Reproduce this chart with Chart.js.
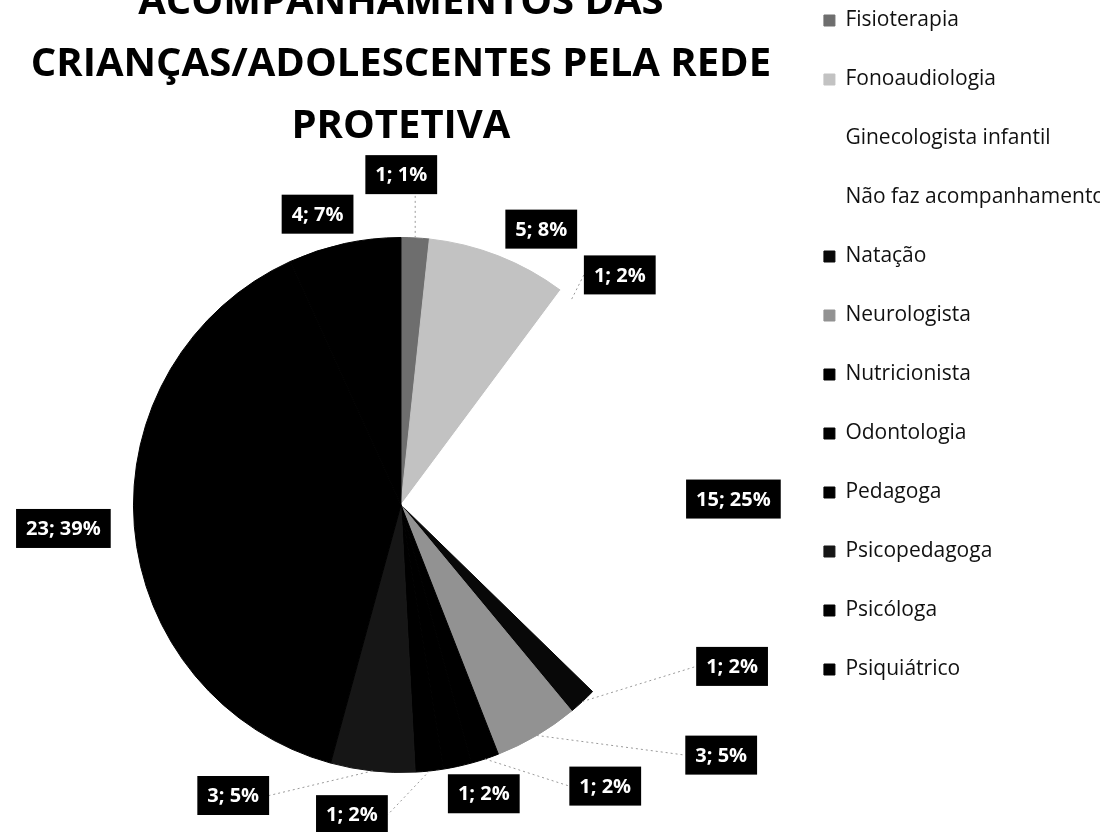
<!DOCTYPE html>
<html lang="pt-BR">
<head>
<meta charset="utf-8">
<title>Acompanhamentos das crianças/adolescentes pela rede protetiva</title>
<script src="https://cdn.jsdelivr.net/npm/chart.js@4.4.1/dist/chart.umd.min.js"></script>
<style>
  html, body { margin: 0; padding: 0; background: #fff; overflow: hidden; }
  /* canvas starts a bit above the page, the title is cut at the top like the scan */
  #wrap { position: absolute; left: 0; top: -28px; width: 1110px; height: 860px; }
</style>
</head>
<body>
<div id="wrap"><canvas id="pieChart"></canvas></div>
<script>
// Data
const categories = [
  "Fisioterapia", "Fonoaudiologia", "Ginecologista infantil", "Não faz acompanhamento",
  "Natação", "Neurologista", "Nutricionista", "Odontologia",
  "Pedagoga", "Psicopedagoga", "Psicóloga", "Psiquiátrico"
];
const counts = [1, 5, 1, 15, 1, 3, 1, 1, 1, 3, 23, 4];
const percentLabels = [1, 8, 2, 25, 2, 5, 2, 2, 2, 5, 39, 7];
const titleLines = ["ACOMPANHAMENTOS DAS", "CRIANÇAS/ADOLESCENTES PELA REDE", "PROTETIVA"];

// Slice fills (greys of the scan)
const sliceColors = [
  "#6e6e6e", "#c2c2c2", "#ffffff", "#ffffff",
  "#080808", "#929292", "#000000", "#000000",
  "#000000", "#161616", "#000000", "#000000"
];

// Label placement: angle shift (deg) from slice middle, distance in radii, leader line or not
const labelShift = [-3, 5.6, 3.9, 0.5, -21.3, -21.5, -17.7, -3.8, 15.1, 23.9, 0.6, -3.8];
const labelDist = [1.235, 1.157, 1.187, 1.243, 1.377, 1.519, 1.299, 1.123, 1.172, 1.254, 1.265, 1.131];
const labelLeader = [true, false, true, false, true, true, true, false, true, true, false, false];

const FONT = "'Open Sans', sans-serif";
const legendFont = { family: FONT, size: 21 };
const LEGEND_PAD = 38;
const BOX_W = 11;
const legendLeft = 785;

// size the canvas so the legend starts where it does in the picture
const measure = document.createElement("canvas").getContext("2d");
measure.font = `${legendFont.size}px ${FONT}`;
const maxText = Math.max(...categories.map(c => measure.measureText(c).width));
document.getElementById("wrap").style.width =
  Math.ceil(legendLeft + LEGEND_PAD + BOX_W + legendFont.size / 2 + maxText + 10) + "px";

// black boxes with white "n; p%" text
const sliceLabels = {
  id: "sliceLabels",
  afterDatasetsDraw(chart) {
    const ctx = chart.ctx;
    const arcs = chart.getDatasetMeta(0).data;
    ctx.save();
    ctx.font = `bold 20px ${FONT}`;
    ctx.textAlign = "center";
    ctx.textBaseline = "middle";

    arcs.forEach((arc, i) => {
      const { x, y, startAngle, endAngle, outerRadius } =
        arc.getProps(["x", "y", "startAngle", "endAngle", "outerRadius"], true);
      const mid = (startAngle + endAngle) / 2;
      const a = mid + labelShift[i] * Math.PI / 180;
      const lx = x + Math.cos(a) * outerRadius * labelDist[i];
      const ly = y + Math.sin(a) * outerRadius * labelDist[i];
      const text = `${counts[i]}; ${percentLabels[i]}%`;
      const w = ctx.measureText(text).width + 20;
      const h = 39;
      const box = { l: lx - w / 2, r: lx + w / 2, t: ly - h / 2, b: ly + h / 2 };

      if (labelLeader[i]) {
        const sx = x + Math.cos(mid) * outerRadius;
        const sy = y + Math.sin(mid) * outerRadius;
        let ex, ey;
        if (box.l > sx) { ex = box.l; ey = ly; }
        else if (box.r < sx) { ex = box.r; ey = ly; }
        else { ex = sx; ey = sy < box.t ? box.t : box.b; }
        ctx.strokeStyle = "#9a9a9a";
        ctx.lineWidth = 1;
        ctx.setLineDash([2, 3]);
        ctx.beginPath();
        ctx.moveTo(sx, sy);
        ctx.lineTo(ex, ey);
        ctx.stroke();
        ctx.setLineDash([]);
      }

      ctx.fillStyle = "#000";
      ctx.fillRect(box.l, box.t, w, h);
      ctx.fillStyle = "#fff";
      ctx.fillText(text, lx, ly + 1);
    });
    ctx.restore();
  }
};

new Chart(document.getElementById("pieChart"), {
  type: "pie",
  data: {
    labels: categories,
    datasets: [{
      data: counts,
      backgroundColor: sliceColors,
      borderColor: sliceColors,
      borderWidth: 1
    }]
  },
  options: {
    responsive: true,
    maintainAspectRatio: false,
    animation: false,
    layout: { padding: { left: 16, top: 0, right: 0, bottom: 59 } },
    plugins: {
      title: {
        display: true,
        text: titleLines,
        fullSize: false,
        color: "#000",
        font: { family: FONT, size: 40, weight: "bold", lineHeight: "62px" },
        padding: { top: 0, bottom: 79 }
      },
      legend: {
        position: "right",
        align: "start",
        labels: {
          color: "#111",
          font: legendFont,
          boxWidth: BOX_W,
          boxHeight: 11,
          padding: LEGEND_PAD
        }
      },
      tooltip: { enabled: false }
    }
  },
  plugins: [sliceLabels]
});
</script>
</body>
</html>
